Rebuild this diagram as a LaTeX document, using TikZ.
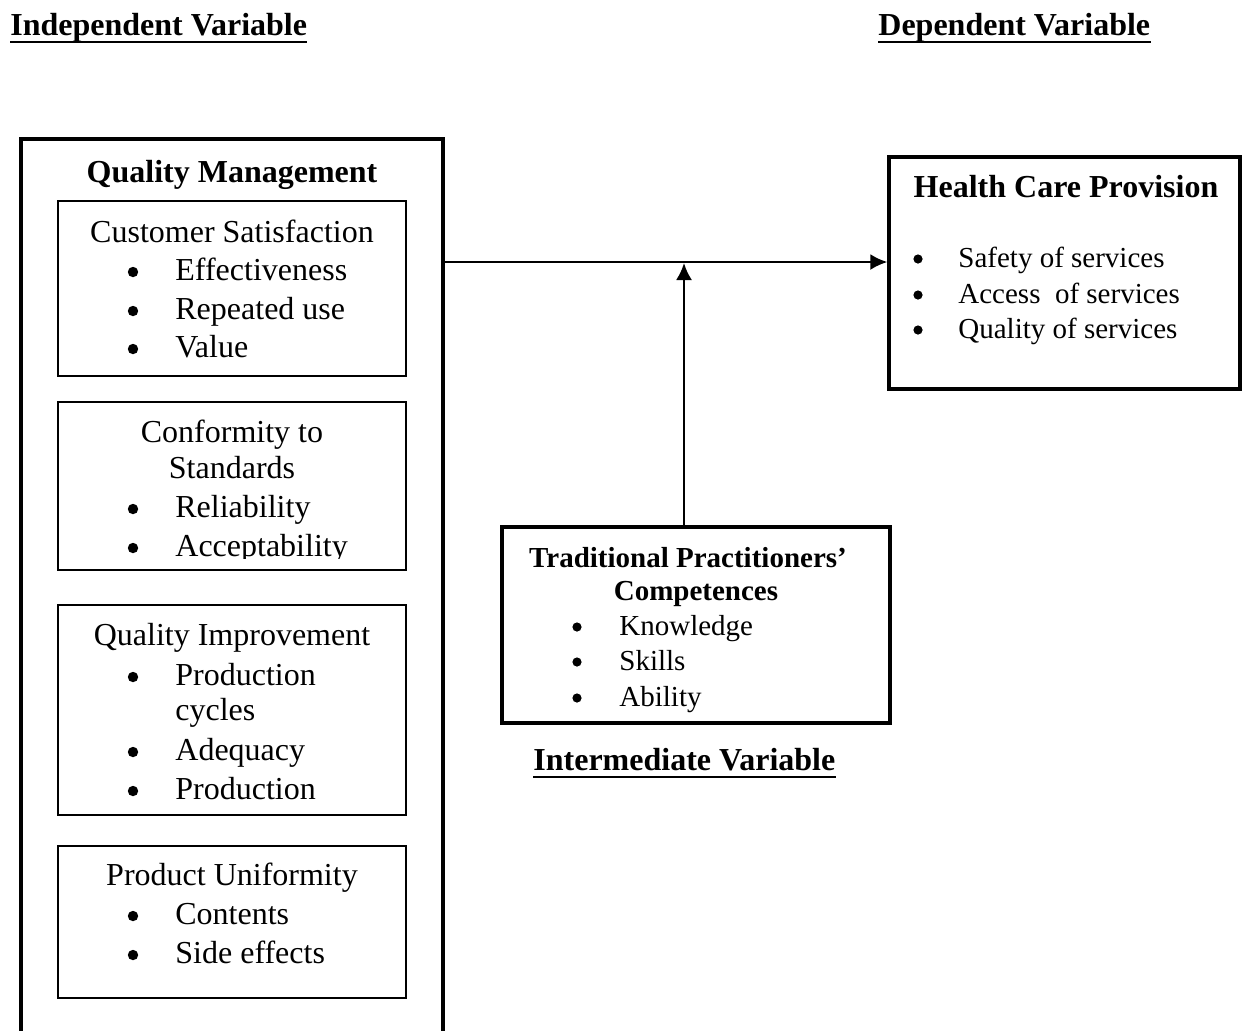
\documentclass[tikz,border=0pt]{standalone}
\usepackage{fontspec}
\setmainfont{Liberation Serif}
\usetikzlibrary{arrows.meta,fit}
\begin{document}
\begin{tikzpicture}[x=0.5pt,y=-0.5pt,
 thickbox/.style={draw,line width=1.7pt,inner sep=0pt},
 thinbox/.style={draw,line width=0.7pt,inner sep=0pt},
 big/.style={inner sep=0pt,anchor=base,font=\fontsize{16}{19}\selectfont},
 bigb/.style={inner sep=0pt,anchor=base,font=\fontsize{16}{19}\selectfont\bfseries},
 sm/.style={inner sep=0pt,anchor=base,font=\fontsize{14.5}{17}\selectfont},
 smb/.style={inner sep=0pt,anchor=base,font=\fontsize{14.5}{17}\selectfont\bfseries},
 bul/.style={circle,fill,inner sep=0pt,minimum size=5.2pt},
 bulsm/.style={circle,fill,inner sep=0pt,minimum size=4.6pt},
 conn/.style={line width=1.1pt,-{Latex[length=8.5pt,width=8pt]}},
 uline/.style={line width=1pt},
]
\clip (0,0) rectangle (1242,1030);

% headers
\node[bigb,anchor=base west] (iv) at (10,35) {Independent Variable};
\node[bigb,anchor=base west] (dv) at (878,35) {Dependent Variable};
\node[bigb,anchor=base west] (mv) at (533,770) {Intermediate Variable};
\draw[uline] ([yshift=-3.4pt]iv.base west) -- ([yshift=-3.4pt]iv.base east);
\draw[uline] ([yshift=-3.4pt]dv.base west) -- ([yshift=-3.4pt]dv.base east);
\draw[uline] ([yshift=-3.4pt]mv.base west) -- ([yshift=-3.4pt]mv.base east);

% boxes
\node[thickbox,fit={(21,139) (443,1050)}] (qm) {};
\node[thinbox,fit={(58,201) (406,376)}] (cs) {};
\node[thinbox,fit={(58,402) (406,570)}] (cf) {};
\node[thinbox,fit={(58,605) (406,815)}] (qi) {};
\node[thinbox,fit={(58,846) (406,998)}] (pu) {};
\node[thickbox,fit={(889,157) (1240,389)}] (hc) {};
\node[thickbox,fit={(502,527) (890,723)}] (tp) {};

% Quality management texts
\node[bigb] (qmt) at (232,182) {Quality Management};

\node[big] (cst) at (232,242) {Customer Satisfaction};
\foreach \n/\y/\t in {cs1/280/Effectiveness, cs2/319/Repeated use, cs3/357/Value}{
  \node[bul] (\n-b) at (133,\y-8) {};
  \node[big,anchor=base west] (\n) at (175,\y) {\t};
}

\node[big] (cft1) at (232,442) {Conformity to};
\node[big] (cft2) at (232,478) {Standards};
\node[bul] (cf1-b) at (133,509) {};
\node[big,anchor=base west] (cf1) at (175,517) {Reliability};
\node[bul] (cf2-b) at (133,548) {};
\begin{scope}
\clip (58,530) rectangle (406,558.5);
\node[big,anchor=base west] (cf2) at (175,556) {Acceptability};
\end{scope}

\node[big] (qit) at (232,645) {Quality Improvement};
\foreach \n/\y/\t in {qi1/685/Production, qi3/760/Adequacy, qi4/799/Production}{
  \node[bul] (\n-b) at (133,\y-8) {};
  \node[big,anchor=base west] (\n) at (175,\y) {\t};
}
\node[big,anchor=base west] (qi2) at (175,720) {cycles};

\node[big] (put) at (232,885) {Product Uniformity};
\foreach \n/\y/\t in {pu1/924/Contents, pu2/963/Side effects}{
  \node[bul] (\n-b) at (133,\y-8) {};
  \node[big,anchor=base west] (\n) at (175,\y) {\t};
}

% Health care provision
\node[bigb] (hct) at (1066,197) {Health Care Provision};
\foreach \n/\y/\t in {hc1/267/Safety of services, hc2/303/Access~ of services, hc3/338/Quality of services}{
  \node[bulsm] (\n-b) at (918,\y-8) {};
  \node[sm,anchor=base west] (\n) at (958,\y) {\t};
}

% Traditional practitioners
\node[smb] (tpt1) at (688,567) {Traditional Practitioners’};
\node[smb] (tpt2) at (696,600) {Competences};
\foreach \n/\y/\t in {tp1/635/Knowledge, tp2/670/Skills, tp3/706/Ability}{
  \node[bulsm] (\n-b) at (577,\y-8) {};
  \node[sm,anchor=base west] (\n) at (619,\y) {\t};
}

% connectors
\coordinate (j) at (684,262);
\draw[conn] (qm.east |- j) -- (hc.west |- j);
\draw[conn] (tp.north -| j) -- ([yshift=-0.5pt]j);
\end{tikzpicture}
\end{document}
